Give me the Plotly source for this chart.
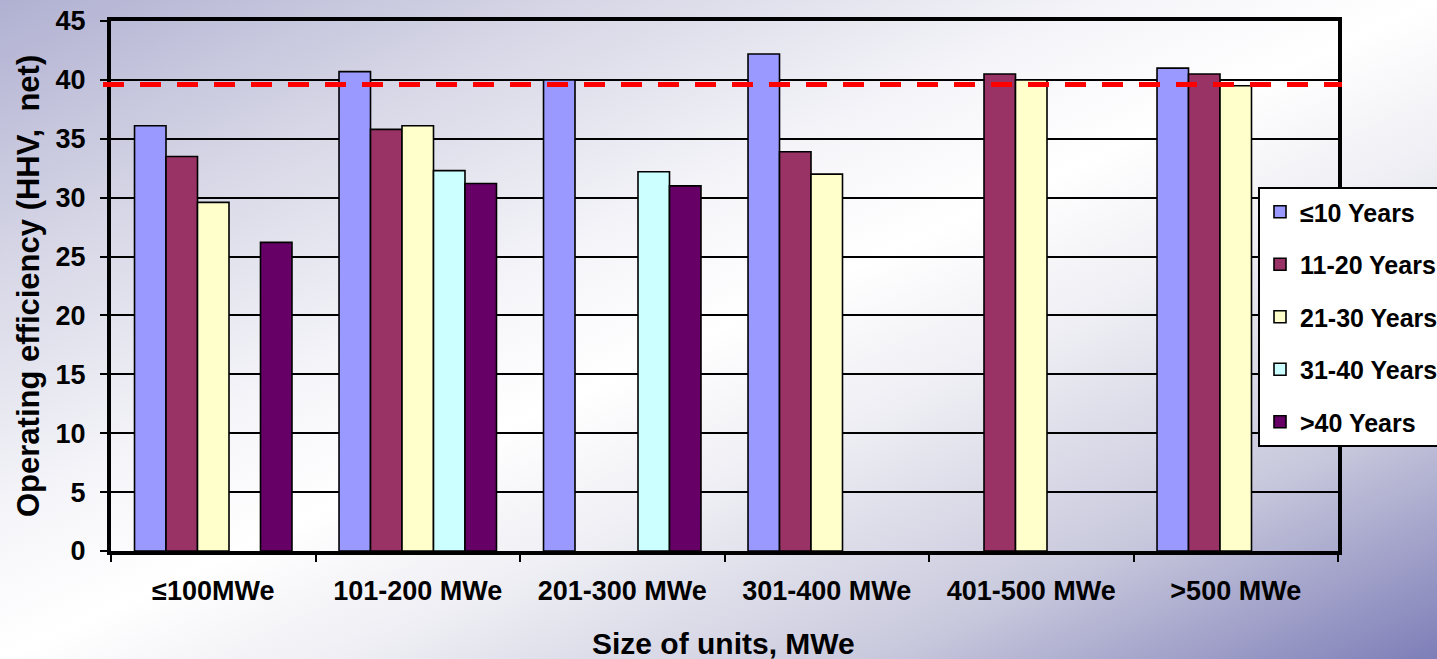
import base64
import plotly.graph_objects as go

# Unit size classes (x categories)
size_classes = ["≤100MWe", "101-200 MWe", "201-300 MWe", "301-400 MWe", "401-500 MWe", ">500 MWe"]

# Operating efficiency (HHV, net, %) by unit age band
age_le10 = [36.1, 40.7, 40.0, 42.2, None, 41.0]
age_11_20 = [33.5, 35.8, None, 33.9, 40.5, 40.5]
age_21_30 = [29.6, 36.1, None, 32.0, 40.0, 39.5]
age_31_40 = [None, 32.3, 32.2, None, None, None]
age_gt40 = [26.2, 31.2, 31.0, None, None, None]

series_names = ["≤10 Years", "11-20 Years", "21-30 Years", "31-40 Years", ">40 Years"]
series_colors = ["#9999FF", "#993366", "#FFFFCC", "#CCFFFF", "#660066"]
series_values = [age_le10, age_11_20, age_21_30, age_31_40, age_gt40]

# Reference efficiency level (dashed line)
reference_level = 39.6

y_ticks = [0, 5, 10, 15, 20, 25, 30, 35, 40, 45]

W, H = 1437, 659
L, R, T, B = 111, 99, 21, 108
PW, PH = W - L - R, H - T - B


def px_x(px):
    """Horizontal pixel position -> paper coordinate."""
    return (px - L) / PW


def px_y(py):
    """Vertical pixel position (from top) -> paper coordinate."""
    return (T + PH - py) / PH


FONT = "Liberation Sans, Arial, sans-serif"

fig = go.Figure()
for i, (name, color, vals) in enumerate(zip(series_names, series_colors, series_values)):
    fig.add_trace(go.Bar(
        name=name,
        x=size_classes,
        y=vals,
        marker=dict(color=color, line=dict(color="black", width=1.6)),
        legendgroup=f"g{i}",
    ))

# Diagonal slide-style background gradient
svg = f"""<svg xmlns='http://www.w3.org/2000/svg' width='{W}' height='{H}' viewBox='0 0 {W} {H}' preserveAspectRatio='none'>
<defs><linearGradient id='g' x1='0' y1='0' x2='1' y2='1'>
<stop offset='0' stop-color='#B0B0D2'/>
<stop offset='0.2' stop-color='#D6D6E6'/>
<stop offset='0.4' stop-color='#F6F6FA'/>
<stop offset='0.5' stop-color='#FFFFFF'/>
<stop offset='0.62' stop-color='#EEEEF4'/>
<stop offset='0.8' stop-color='#CACADE'/>
<stop offset='1' stop-color='#7E7EB8'/>
</linearGradient></defs>
<rect x='0' y='0' width='{W}' height='{H}' fill='url(#g)'/>
</svg>"""
bg_uri = "data:image/svg+xml;base64," + base64.b64encode(svg.encode()).decode()

fig.update_layout(
    width=W, height=H,
    margin=dict(l=L, r=R, t=T, b=B, autoexpand=False),
    paper_bgcolor="rgba(0,0,0,0)",
    plot_bgcolor="rgba(0,0,0,0)",
    barmode="group",
    bargap=0.23,
    bargroupgap=0,
    font=dict(family=FONT, color="black", weight="bold"),
    images=[dict(
        source=bg_uri, xref="paper", yref="paper",
        x=-L / PW, y=1 + T / PH, sizex=W / PW, sizey=H / PH,
        xanchor="left", yanchor="top", sizing="stretch", layer="below",
    )],
    legend=dict(
        x=px_x(1258), y=px_y(187), xanchor="left", yanchor="top",
        bgcolor="white", bordercolor="black", borderwidth=2,
        font=dict(family=FONT, size=25, color="black", weight="bold"),
        tracegroupgap=17,
    ),
    showlegend=True,
)

fig.update_xaxes(
    showline=True, linecolor="black", linewidth=4, mirror=True,
    ticks="outside", tickson="boundaries", ticklen=7, tickwidth=2, tickcolor="black",
    tickfont=dict(family=FONT, size=27, color="black", weight="bold"),
    ticklabelstandoff=13,
    showgrid=False,
)
fig.update_yaxes(
    range=[0, 45], tickvals=y_ticks,
    showline=True, linecolor="black", linewidth=4, mirror=True,
    ticks="outside", ticklen=7, tickwidth=2, tickcolor="black",
    tickfont=dict(family=FONT, size=27, color="black", weight="bold"),
    ticklabelstandoff=9,
    showgrid=True, gridcolor="black", gridwidth=2,
    zeroline=False,
)

fig.add_shape(
    type="line", xref="paper", yref="y",
    x0=px_x(103), x1=px_x(1342), y0=reference_level, y1=reference_level,
    line=dict(color="#FF0000", width=5, dash="21px,16px"),
    layer="above",
)

fig.add_annotation(
    text="Operating efficiency (HHV,  net)", textangle=-90,
    xref="paper", yref="paper", x=px_x(28), y=px_y(286),
    xanchor="center", yanchor="middle", showarrow=False,
    font=dict(family=FONT, size=31, color="black", weight="bold"),
)
fig.add_annotation(
    text="Size of units, MWe",
    xref="paper", yref="paper", x=px_x(723), y=px_y(643),
    xanchor="center", yanchor="middle", showarrow=False,
    font=dict(family=FONT, size=30, color="black", weight="bold"),
)

fig.write_html("out.html")
